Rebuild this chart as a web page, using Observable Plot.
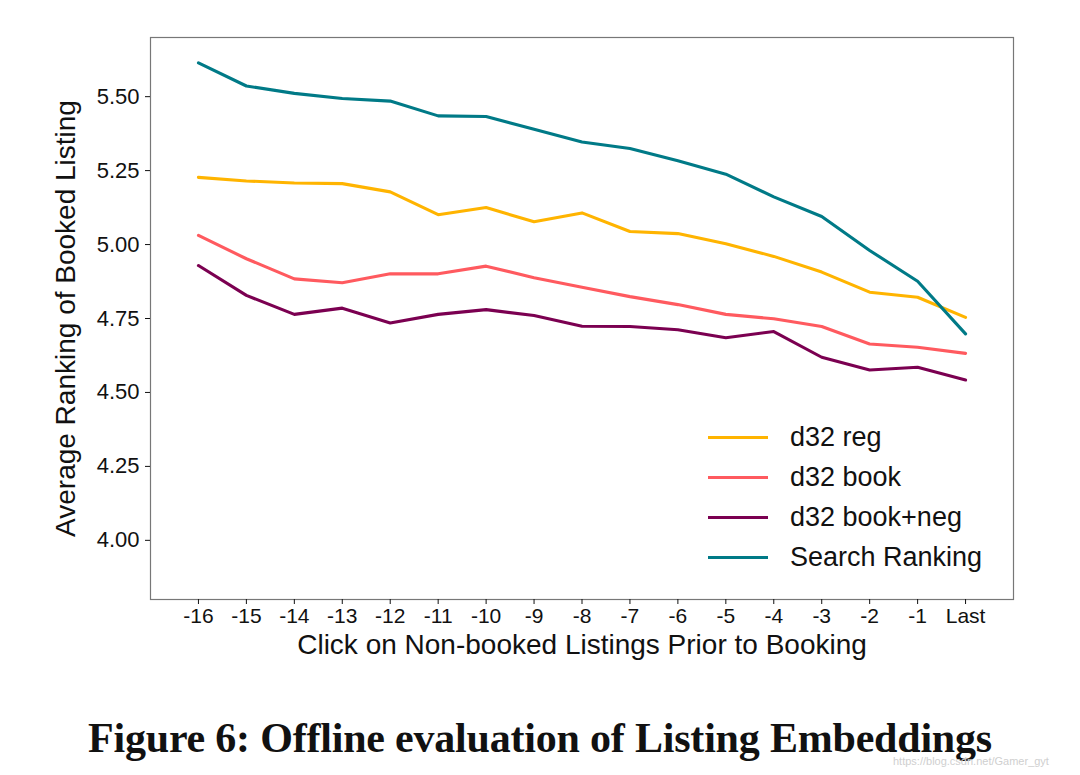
<!DOCTYPE html>
<html>
<head>
<meta charset="utf-8">
<script src="https://cdn.jsdelivr.net/npm/d3@7"></script>
<script src="https://cdn.jsdelivr.net/npm/@observablehq/plot@0.6"></script>
<style>
  html, body { margin: 0; padding: 0; background: #fff; }
  #wrap { position: relative; width: 1080px; height: 775px; overflow: hidden; }
  #legend { position: absolute; left: 708px; top: 417px; font-family: "Liberation Sans", Arial, sans-serif; font-size: 27px; color: #111; }
  #legend .row { display: flex; align-items: center; height: 40px; }
  #legend .sw { width: 60px; height: 3px; margin-right: 22px; }
  #caption { position: absolute; left: 0; width: 1080px; top: 714px; text-align: center; font-family: "Liberation Serif", "DejaVu Serif", serif; font-weight: bold; font-size: 42px; color: #111; letter-spacing: -0.2px; }
  #wm { position: absolute; left: 893px; top: 755px; font-family: "Liberation Sans", sans-serif; font-size: 11px; color: #cfcfcf; }
</style>
</head>
<body>
<div id="wrap">
  <div id="chart"></div>
  <div id="legend"></div>
  <div id="caption">Figure 6: Offline evaluation of Listing Embeddings</div>
  <div id="wm">https://blog.csdn.net/Gamer_gyt</div>
</div>
<script>
const xLabels = ["-16","-15","-14","-13","-12","-11","-10","-9","-8","-7","-6","-5","-4","-3","-2","-1","Last"];
const yTicks = [4.00, 4.25, 4.50, 4.75, 5.00, 5.25, 5.50];
const seriesNames = ["d32 reg", "d32 book", "d32 book+neg", "Search Ranking"];
const seriesColors = ["#FFB400", "#FF5A5F", "#7B0051", "#007A87"];
const d32reg     = [5.227, 5.215, 5.208, 5.206, 5.178, 5.101, 5.125, 5.077, 5.107, 5.044, 5.037, 5.003, 4.960, 4.907, 4.839, 4.822, 4.754];
const d32book    = [5.031, 4.952, 4.884, 4.871, 4.901, 4.901, 4.927, 4.888, 4.856, 4.824, 4.797, 4.764, 4.749, 4.723, 4.664, 4.653, 4.632];
const d32bookneg = [4.929, 4.828, 4.764, 4.785, 4.735, 4.764, 4.780, 4.760, 4.724, 4.723, 4.712, 4.685, 4.706, 4.619, 4.576, 4.585, 4.542];
const searchRank = [5.614, 5.536, 5.511, 5.494, 5.485, 5.435, 5.433, 5.390, 5.347, 5.325, 5.283, 5.238, 5.161, 5.095, 4.980, 4.876, 4.698];

const allSeries = [d32reg, d32book, d32bookneg, searchRank];
const rows = [];
allSeries.forEach((vals, s) => vals.forEach((v, i) => rows.push({series: seriesNames[s], i, v})));

const chart = Plot.plot({
  width: 1080,
  height: 690,
  marginLeft: 150,
  marginRight: 67,
  marginTop: 37,
  marginBottom: 91,
  style: { fontFamily: "Liberation Sans, Arial, sans-serif", color: "#111", background: "#fff", overflow: "visible" },
  x: { domain: [-1, 17] },
  y: { domain: [3.8, 5.7] },
  color: { domain: seriesNames, range: seriesColors },
  marks: [
    Plot.frame({ stroke: "#777", strokeWidth: 1.2 }),
    Plot.axisX({ ticks: d3.range(xLabels.length), tickFormat: i => xLabels[i], tickSize: 5, tickPadding: 4, fontSize: 21, label: null }),
    Plot.axisY({ ticks: yTicks, tickFormat: d3.format(".2f"), tickSize: 5, tickPadding: 6, fontSize: 22, label: null }),
    Plot.text(["Click on Non-booked Listings Prior to Booking"], { frameAnchor: "bottom", dy: 54, fontSize: 28, text: d => d }),
    Plot.text(["Average Ranking of Booked Listing"], { frameAnchor: "left", textAnchor: "middle", dx: -84, rotate: -90, fontSize: 28, text: d => d }),
    Plot.line(rows, { x: "i", y: "v", z: "series", stroke: "series", strokeWidth: 3.1, strokeLinejoin: "round" })
  ]
});
document.getElementById("chart").appendChild(chart);

const legend = document.getElementById("legend");
seriesNames.forEach((n, k) => {
  const r = document.createElement("div");
  r.className = "row";
  r.innerHTML = `<div class="sw" style="background:${seriesColors[k]}"></div><span>${n}</span>`;
  legend.appendChild(r);
});
</script>
</body>
</html>
